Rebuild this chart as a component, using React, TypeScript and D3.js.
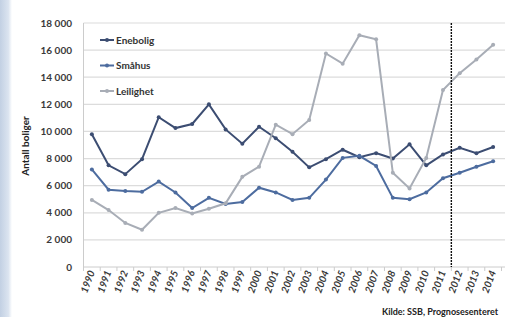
import * as d3 from 'd3'
import React from 'react'

const years = d3.range(1990, 2015).map(String)
const yTicks = [0, 2000, 4000, 6000, 8000, 10000, 12000, 14000, 16000, 18000]

const enebolig = [9800, 7500, 6850, 7950, 11050, 10250, 10550, 12000, 10150, 9100, 10350, 9500, 8500, 7350, 7950, 8650, 8100, 8400, 8000, 9050, 7500, 8300, 8800, 8400, 8850]
const smahus = [7200, 5700, 5600, 5550, 6300, 5500, 4350, 5100, 4650, 4800, 5850, 5500, 4950, 5100, 6450, 8050, 8200, 7450, 5100, 5000, 5500, 6550, 6950, 7400, 7800]
const leilighet = [4950, 4200, 3250, 2750, 4000, 4350, 3950, 4300, 4700, 6650, 7400, 10500, 9800, 10850, 15750, 15000, 17100, 16800, 6950, 5800, 8050, 13050, 14300, 15300, 16400]

const seriesNames = ['Enebolig', 'Småhus', 'Leilighet']
const seriesColors = ['#3c4d72', '#4d6c9f', '#a8adb6']
const forecastFrom = '2012'
const source = 'Kilde: SSB, Prognosesenteret'

const W = 510
const H = 317
const font = 'Lato, "Open Sans", sans-serif'

export default function App() {
  const x = d3.scaleBand<string>().domain(years).range([83.5, 501.5])
  const cx = (yr: string) => x(yr)! + x.bandwidth() / 2
  const y = d3.scaleLinear().domain([0, 18000]).range([267, 23])
  const fmt = (v: number) => d3.format(',')(v).replace(',', ' ')

  const all = [enebolig, smahus, leilighet]
  const line = d3
    .line<number>()
    .x((_, i) => cx(years[i]))
    .y((d) => y(d))

  return (
    <svg width={W} height={H} style={{ position: 'absolute', left: 0, top: 0, background: '#fff' }}>
      <defs>
        <linearGradient id="side" x1="0" x2="1">
          <stop offset="0" stopColor="#c2d0e3" />
          <stop offset="0.7" stopColor="#dbe4f0" />
          <stop offset="1" stopColor="#ffffff" />
        </linearGradient>
      </defs>
      <rect x={0} y={0} width={12} height={H} fill="url(#side)" />

      {/* grid */}
      {yTicks.map((t) => (
        <g key={t}>
          {t > 0 && <line x1={83.5} x2={505} y1={y(t)} y2={y(t)} stroke="#dcdcdc" strokeWidth={1.2} />}
          <text x={72} y={y(t) + 3.5} textAnchor="end" fontFamily={font} fontSize={10} fontWeight={700} fill="#3a3a3a">
            {fmt(t)}
          </text>
        </g>
      ))}
      <line x1={83.5} x2={83.5} y1={y(18000)} y2={y(0)} stroke="#cccccc" />
      <line x1={83.5} x2={505} y1={y(0)} y2={y(0)} stroke="#cccccc" />
      {years.map((yr) => (
        <line key={yr} x1={x(yr)!} x2={x(yr)!} y1={y(0)} y2={y(0) + 4} stroke="#cccccc" />
      ))}
      <line x1={501.5} x2={501.5} y1={y(0)} y2={y(0) + 4} stroke="#cccccc" />

      {/* x labels */}
      {years.map((yr) => (
        <text
          key={yr}
          transform={`translate(${cx(yr) + 3},${y(0) + 5}) rotate(-70)`}
          textAnchor="end"
          fontFamily={font}
          fontSize={10}
          fontWeight={700}
          fontStyle="italic"
          fill="#3a3a3a"
        >
          {yr}
        </text>
      ))}

      <text transform={`translate(29,146) rotate(-90)`} textAnchor="middle" fontFamily={font} fontSize={10} fontWeight={700} fill="#222">
        Antall boliger
      </text>

      {/* series */}
      {all.map((s, k) => (
        <g key={k}>
          <path d={line(s)!} fill="none" stroke={seriesColors[k]} strokeWidth={2} />
          {s.map((v, i) => (
            <circle key={i} cx={cx(years[i])} cy={y(v)} r={2} fill={seriesColors[k]} />
          ))}
        </g>
      ))}

      {/* forecast marker */}
      <line x1={x(forecastFrom)!} x2={x(forecastFrom)!} y1={y(18000)} y2={y(0)} stroke="#111" strokeWidth={1.4} strokeDasharray="2,1" />

      {/* legend */}
      {seriesNames.map((n, k) => (
        <g key={n} transform={`translate(100,${40 + k * 25.5})`}>
          <line x1={0} x2={14} y1={0} y2={0} stroke={seriesColors[k]} strokeWidth={2} />
          <circle cx={7} cy={0} r={2} fill={seriesColors[k]} />
          <text x={16} y={3.5} fontFamily={font} fontSize={10} fontWeight={700} fill="#333">
            {n}
          </text>
        </g>
      ))}

      <text x={382} y={315} fontFamily={font} fontSize={9} fontWeight={700} fill="#222">
        {source}
      </text>
    </svg>
  )
}
